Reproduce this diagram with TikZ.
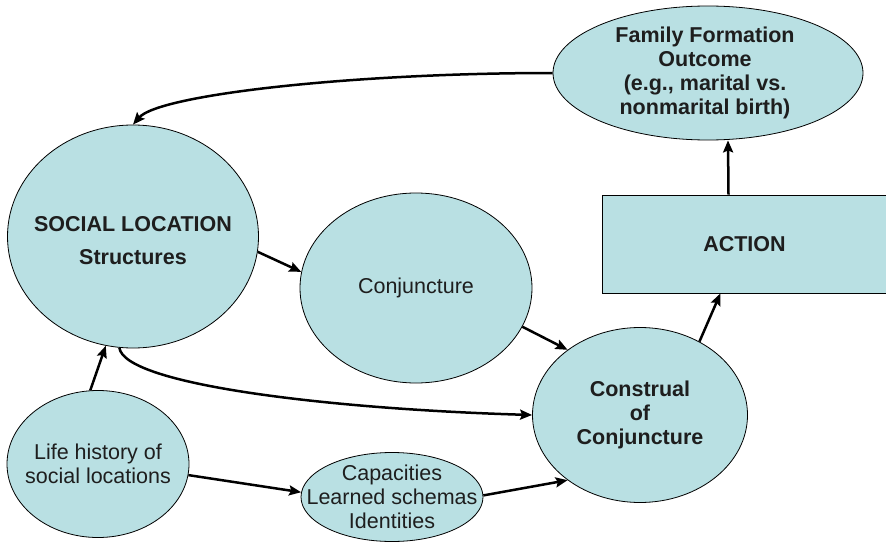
\documentclass[tikz,border=0pt]{standalone}
\usepackage{fontspec}
\setmainfont{Liberation Sans}
\usetikzlibrary{shapes.geometric,arrows.meta}
\definecolor{bubblefill}{RGB}{185,224,227}
\definecolor{inktext}{RGB}{30,30,30}

\begin{document}
\begin{tikzpicture}[x=1pt,y=-1pt,
  bubble/.style={ellipse, draw, line width=0.8pt, fill=bubblefill, inner sep=0pt},
  box/.style={rectangle, draw, line width=0.8pt, fill=bubblefill, inner sep=0pt},
  txt/.style={align=center, text=inktext, font=\fontsize{21.5}{24}\selectfont},
  btxt/.style={align=center, text=inktext, font=\fontsize{21.5}{24}\selectfont\bfseries},
  link/.style={line width=2.5pt, -{Stealth[length=12pt,width=10pt,inset=2pt]}}]

\useasboundingbox (0,0) rectangle (886,543);

% Stages of the model
\node[bubble, minimum width=251pt, minimum height=223pt,
  label={[btxt, yshift=-4.5pt]center:{SOCIAL LOCATION\\[9pt]Structures}}] (soc) at (133,236.5) {};
\node[bubble, minimum width=232pt, minimum height=190pt,
  label={[txt]center:{Conjuncture}}] (conj) at (416,288) {};
\node[bubble, minimum width=215pt, minimum height=175pt,
  label={[btxt]center:{Construal\\of\\Conjuncture}}] (constr) at (640,415) {};
\node[bubble, minimum width=310pt, minimum height=134pt,
  label={[btxt, xshift=-3pt]center:{Family Formation\\Outcome\\(e.g., marital vs.\\nonmarital birth)}}] (fam) at (708,73) {};
\node[bubble, minimum width=182pt, minimum height=147pt,
  label={[txt]center:{Life history of\\social locations}}] (life) at (98,464) {};
\node[bubble, minimum width=182pt, minimum height=89pt,
  label={[txt]center:{Capacities\\Learned schemas\\Identities}}] (cap) at (392,497) {};
\node[box, minimum width=285pt, minimum height=98pt,
  label={[btxt]center:{ACTION}}] (act) at (744.5,244) {};

% Arrows between the stages
\draw[link] (fam.180) .. controls +(-200,0) and +(26,-30) .. (soc.90);
\draw[link] (soc.-7) -- (conj.172);
\draw[link] (conj.-20) -- (constr.138);
\draw[link] (soc.263) .. controls +(5,37) and +(-202,-6) .. (constr.180);
\draw[link] (life.96) -- (soc.256);
\draw[link] (life.-7) -- (cap.177);
\draw[link] (cap.1) -- (constr.222);
\draw[link] (constr.51) -- (act.-116);
\draw[link] ([xshift=-16pt]act.north) -- ([xshift=20pt]fam.south);

\end{tikzpicture}
\end{document}
